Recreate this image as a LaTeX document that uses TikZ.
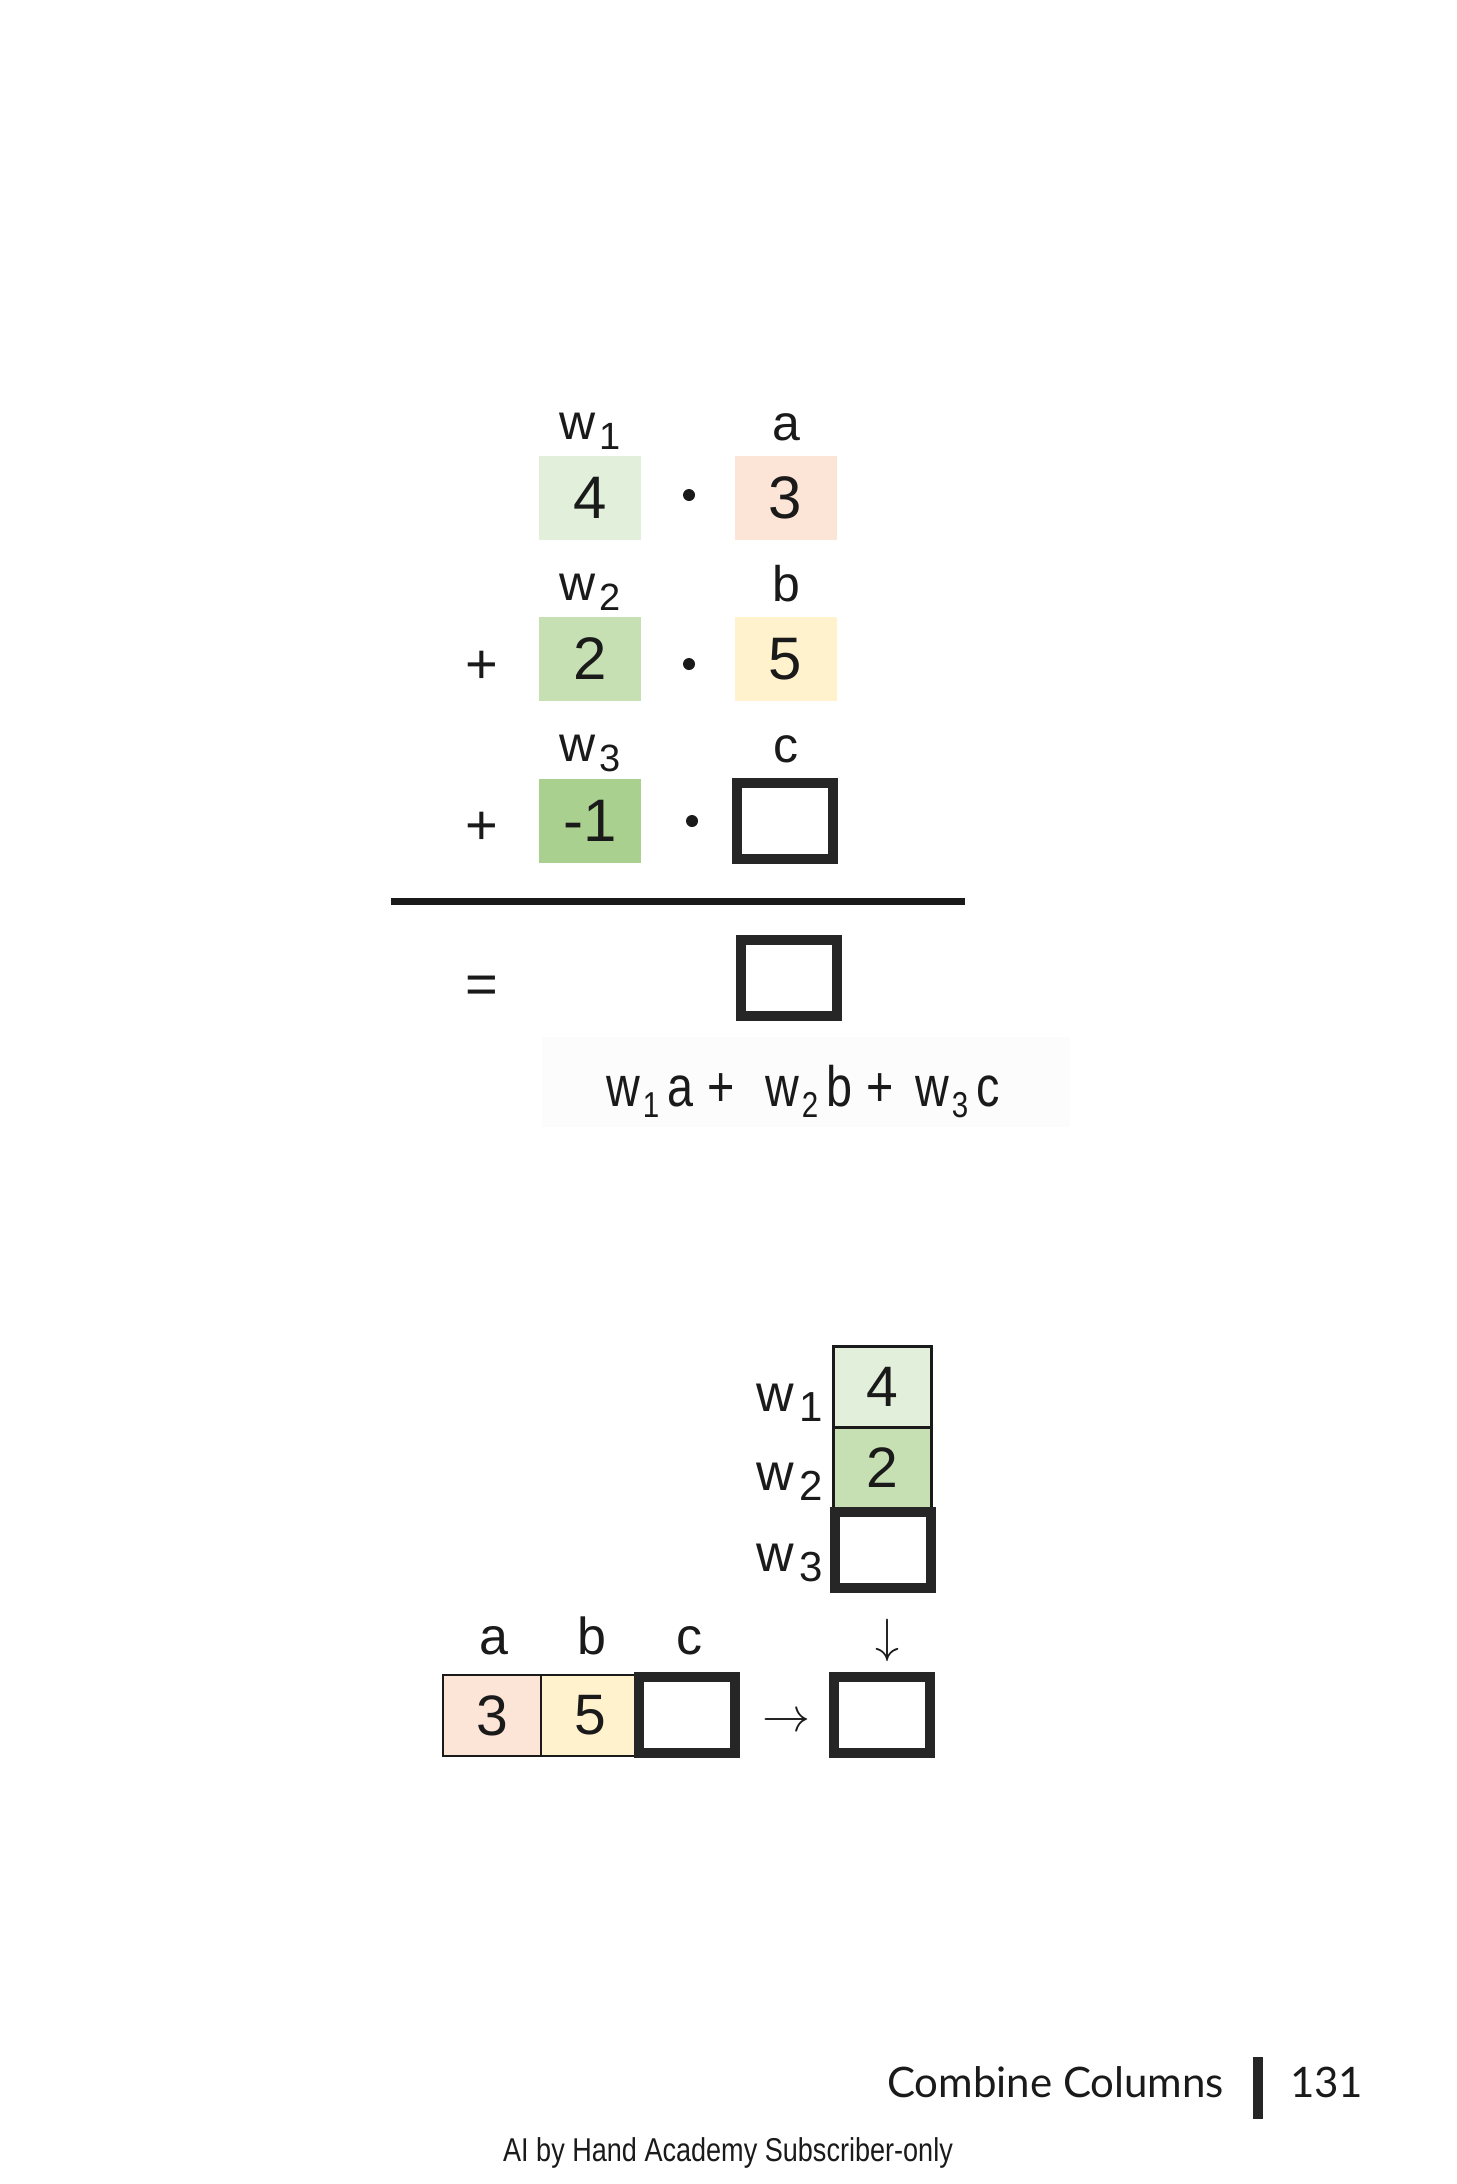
\RequirePackage{fix-cm}
\documentclass[tikz,border=0pt]{standalone}
\usepackage{fontspec}
\setmainfont{Liberation Sans}
\newfontfamily\narrowfont[FakeStretch=0.82]{Liberation Sans}
\newfontfamily\footfont{Lato}
\definecolor{ink}{HTML}{1A1A1A}
\definecolor{frame}{HTML}{262626}
\definecolor{gA}{HTML}{E2EFDA}
\definecolor{gB}{HTML}{C6E0B4}
\definecolor{gC}{HTML}{A9D08E}
\definecolor{peach}{HTML}{FCE4D6}
\definecolor{cream}{HTML}{FFF2CC}
\definecolor{faint}{HTML}{FCFCFC}
% w with subscript: #1 digit, #2 sub size, #3 kern, #4 lowering
\newcommand{\wlab}[4]{w\kern#3\raisebox{-#4}{\fontsize{#2}{#2}\selectfont #1}}
\newcommand{\exsub}[1]{\kern1.5pt\raisebox{-5.5pt}{\fontsize{18}{18}\selectfont #1}\kern4pt}
\begin{document}
\begin{tikzpicture}[x=0.5pt,y=-0.5pt,
  txt/.style={text=ink, inner sep=0pt, outer sep=0pt},
  toplbl/.style={txt, font=\fontsize{25}{25}\selectfont},
  botlbl/.style={txt, font=\fontsize{26}{26}\selectfont},
  opsym/.style={txt, font=\fontsize{28}{28}\selectfont, anchor=base},
  cell/.style={minimum width=51pt, minimum height=42pt, inner sep=0pt, outer sep=0pt, text=ink, font=\fontsize{30}{30}\selectfont},
  thickbox/.style={draw=frame, line width=5pt, fill=white, minimum width=48pt, minimum height=38pt, inner sep=0pt, outer sep=0pt},
  thincell/.style={draw=ink, line width=1.25pt, minimum width=49pt, minimum height=40.5pt, inner sep=0pt, outer sep=0pt, text=ink, font=\fontsize{28.5}{28.5}\selectfont},
  dotsym/.style={circle, fill=ink, minimum size=6pt, inner sep=0pt},
  exprtxt/.style={txt, anchor=base west, font=\narrowfont\fontsize{28.5}{28.5}\selectfont},
  arrowsym/.style={txt, font=\fontsize{24}{24}\selectfont}
]
\useasboundingbox (0,0) rectangle (1456,2184);

% ---------- top equation ----------
\node[toplbl, anchor=base west] (lw1) at (559,439) {\wlab{1}{19pt}{2pt}{5pt}};
\node[toplbl, anchor=base] (la) at (786,440) {a};
\node[cell, fill=gA] (w1) at (590,498) {4};
\node[dotsym] (d1) at (689,495) {};
\node[cell, fill=peach] (ca) at (785.5,498) {3};

\node[toplbl, anchor=base west] (lw2) at (559,600) {\wlab{2}{19pt}{2pt}{5pt}};
\node[toplbl, anchor=base] (lb) at (786,601) {b};
\node[opsym] (p1) at (482,683) {+};
\node[cell, fill=gB] (w2) at (590,659) {2};
\node[dotsym] (d2) at (689,664) {};
\node[cell, fill=cream] (cb) at (785.5,659) {5};

\node[toplbl, anchor=base west] (lw3) at (559,761) {\wlab{3}{19pt}{2pt}{5pt}};
\node[toplbl, anchor=base] (lc) at (786,762) {c};
\node[opsym] (p2) at (482,844) {+};
\node[cell, fill=gC] (w3) at (590,821) {-1};
\node[dotsym] (d3) at (692,821) {};
\node[thickbox] (cc) at (784.5,820.5) {};

\coordinate (L1) at (391,901);
\coordinate (L2) at (965,901);
\draw[ink, line width=3.5pt] (L1) -- (L2);

\node[opsym] (eq) at (482,1003) {=};
\node[thickbox] (res) at (789,978) {};

\node[fill=faint, minimum width=264pt, minimum height=45pt, inner sep=0pt] (bg) at (806,1082) {};
\node[exprtxt] (e1) at (606,1106) {w\exsub{1}a\kern7pt+};
\node[exprtxt] (e2) at (765,1106) {w\exsub{2}b\kern7pt+};
\node[exprtxt] (e3) at (915,1106) {w\exsub{3}c};

% ---------- bottom diagram ----------
\node[thincell, fill=gA] (bw1) at (882.5,1387) {4};
\node[thincell, fill=gB] (bw2) at (882.5,1468) {2};
\node[thickbox] (bw3) at (883,1550) {};
\node[botlbl, anchor=base west] (blw1) at (756,1411) {\wlab{1}{21pt}{3pt}{5pt}};
\node[botlbl, anchor=base west] (blw2) at (756,1490) {\wlab{2}{21pt}{3pt}{5pt}};
\node[botlbl, anchor=base west] (blw3) at (756,1571) {\wlab{3}{21pt}{3pt}{5pt}};

\node[botlbl, anchor=base] (bla) at (494,1654) {a};
\node[botlbl, anchor=base] (blb) at (592,1654) {b};
\node[botlbl, anchor=base] (blc) at (689,1654) {c};
\node[thincell, fill=peach] (ba) at (492,1715.5) {3};
\node[thincell, fill=cream] (bb) at (590,1715.5) {5};
\node[thickbox] (bc) at (686.5,1715) {};
\node[arrowsym] (rarr) at (786,1723) {$\rightarrow$};
\node[arrowsym] (darr) at (887,1640) {$\downarrow$};
\node[thickbox] (bres) at (882,1715) {};

% ---------- footer ----------
\node[txt, anchor=base east, font=\footfont\fontsize{21}{21}\selectfont] (ft) at (1224,2097) {Combine Columns};
\node[fill=frame, minimum width=5pt, minimum height=31pt, inner sep=0pt] (bar) at (1258,2088) {};
\node[txt, anchor=base west, font=\footfont\fontsize{21}{21}\selectfont] (pg) at (1290,2097) {131};
\node[txt, anchor=base, font=\narrowfont\fontsize{16.5}{16.5}\selectfont] (sub) at (728,2161) {AI by Hand Academy Subscriber-only};
\end{tikzpicture}
\end{document}
